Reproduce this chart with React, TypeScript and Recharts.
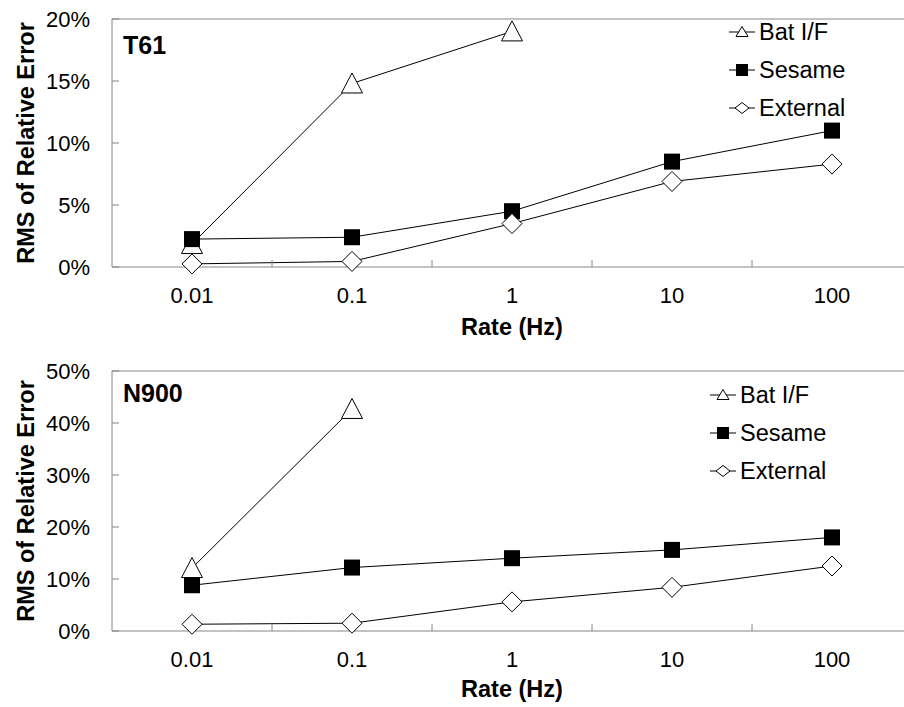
import React from 'react';
import { LineChart, Line, XAxis, YAxis, ReferenceLine, Legend, Label } from 'recharts';

// sampling rates (x categories)
const categories = ['0.01', '0.1', '1', '10', '100'];

// T61, RMS of relative error in %
const t61BatIF = [1.85, 14.8, 19.0, null, null];
const t61Sesame = [2.25, 2.4, 4.5, 8.5, 11.0];
const t61External = [0.25, 0.45, 3.5, 6.9, 8.3];
const t61Ticks = [0, 5, 10, 15, 20];

// N900, RMS of relative error in %
const n900BatIF = [12.1, 42.7, null, null, null];
const n900Sesame = [8.8, 12.2, 14.0, 15.6, 18.0];
const n900External = [1.3, 1.5, 5.6, 8.4, 12.5];
const n900Ticks = [0, 10, 20, 30, 40, 50];

const seriesNames = ['Bat I/F', 'Sesame', 'External'];

const FONT = '"Liberation Sans", Arial, sans-serif';
const GRAY = '#868686';
const X_TICK_MARGIN = 20;

const buildRows = (bat: (number | null)[], sesame: number[], external: number[]) =>
  categories.map((c, i) => ({ pos: i + 0.5, rate: c, bat: bat[i], sesame: sesame[i], external: external[i] }));

// label ticks at category centres, small tick marks at category borders
const xTicks = categories.flatMap((_, i) => [i, i + 0.5]).concat([categories.length]);

const RateTick = (props: any) => {
  const { x, y, payload } = props;
  const v = payload.value;
  if (Number.isInteger(v)) {
    if (v === 0 || v === categories.length) return <g />;
    const axisY = y - X_TICK_MARGIN;
    return <line x1={x} x2={x} y1={axisY} y2={axisY - 7} stroke={GRAY} />;
  }
  return (
    <text x={x} y={y} dy="0.71em" textAnchor="middle" fontSize={22} fill="#000" fontFamily={FONT}>
      {categories[Math.floor(v)]}
    </text>
  );
};

const triangle = (cx: number, cy: number, w: number, h: number) =>
  `${cx},${cy - h / 2 - 1} ${cx - w / 2},${cy + h / 2} ${cx + w / 2},${cy + h / 2}`;
const diamond = (cx: number, cy: number, r: number, ry: number) =>
  `${cx},${cy - ry} ${cx + r},${cy} ${cx},${cy + ry} ${cx - r},${cy}`;

const TriangleDot = (props: any) => {
  const { cx, cy, value, index } = props;
  if (value == null || cy == null) return <g key={`t${index}`} />;
  return <polygon key={`t${index}`} points={triangle(cx, cy, 21, 19)} fill="#fff" stroke="#000" strokeWidth={1} />;
};

const SquareDot = (props: any) => {
  const { cx, cy, value, index } = props;
  if (value == null || cy == null) return <g key={`s${index}`} />;
  return <rect key={`s${index}`} x={cx - 8} y={cy - 8} width={16} height={16} fill="#000" />;
};

const DiamondDot = (props: any) => {
  const { cx, cy, value, index } = props;
  if (value == null || cy == null) return <g key={`d${index}`} />;
  return <polygon key={`d${index}`} points={diamond(cx, cy, 10, 10)} fill="#fff" stroke="#000" strokeWidth={1} />;
};

const LegendMarker = ({ kind }: { kind: number }) => (
  <svg width={26} height={20} style={{ display: 'block' }}>
    <line x1={0} x2={26} y1={10} y2={10} stroke="#000" />
    {kind === 0 && <polygon points={triangle(13, 10, 12, 9)} fill="#fff" stroke="#000" />}
    {kind === 1 && <rect x={7} y={4} width={12} height={12} fill="#000" />}
    {kind === 2 && <polygon points={diamond(13, 10, 7, 5.5)} fill="#fff" stroke="#000" />}
  </svg>
);

const LegendBox = () => (
  <div style={{ fontFamily: FONT, fontSize: 23.5, color: '#000' }}>
    {seriesNames.map((name, i) => (
      <div key={name} style={{ display: 'flex', alignItems: 'center', height: 38 }}>
        <LegendMarker kind={i} />
        <span style={{ marginLeft: 4, whiteSpace: 'nowrap' }}>{name}</span>
      </div>
    ))}
  </div>
);

interface PanelProps {
  name: string;
  rows: any[];
  ticks: number[];
  height: number;
  plotTop: number;
  xAxisHeight: number;
  legendLeft: number;
  legendTop: number;
  nameOffset: number;
  xTitleOffset: number;
}

const Panel = ({ name, rows, ticks, height, plotTop, xAxisHeight, legendLeft, legendTop, nameOffset, xTitleOffset }: PanelProps) => {
  const yMax = ticks[ticks.length - 1];
  return (
    <LineChart width={930} height={height} data={rows} margin={{ top: plotTop, right: 18, left: 0, bottom: 0 }}>
      <XAxis
        dataKey="pos"
        type="number"
        domain={[0, categories.length]}
        ticks={xTicks}
        interval={0}
        height={xAxisHeight}
        axisLine={{ stroke: GRAY }}
        tickLine={false}
        tickSize={0}
        tickMargin={X_TICK_MARGIN}
        tick={<RateTick />}
      >
        <Label
          content={(p: any) => {
            const vb = p.viewBox;
            return (
              <text x={vb.x + vb.width / 2} y={vb.y + vb.height - xTitleOffset} textAnchor="middle" fontFamily={FONT} fontSize={23.5} fontWeight="bold" fill="#000">
                Rate (Hz)
              </text>
            );
          }}
        />
      </XAxis>
      <YAxis
        type="number"
        domain={[0, yMax]}
        ticks={ticks}
        interval={0}
        width={112}
        axisLine={{ stroke: GRAY }}
        tickLine={{ stroke: GRAY }}
        tickSize={-7}
        tickMargin={29}
        tickFormatter={(v: number) => `${v}%`}
        tick={{ fontSize: 22, fill: '#000', fontFamily: FONT }}
      >
        <Label
          content={(p: any) => {
            const vb = p.viewBox;
            const cy = vb.y + vb.height / 2;
            return (
              <g>
                <text x={26} y={cy} transform={`rotate(-90, 26, ${cy})`} textAnchor="middle" dominantBaseline="central" fontFamily={FONT} fontSize={23.5} fontWeight="bold" fill="#000">
                  RMS of Relative Error
                </text>
                <text x={vb.x + vb.width + 11} y={vb.y + nameOffset} fontFamily={FONT} fontSize={25} fontWeight="bold" fill="#000">
                  {name}
                </text>
              </g>
            );
          }}
        />
      </YAxis>
      <ReferenceLine y={yMax} stroke={GRAY} />
      <Legend
        layout="vertical"
        align="center"
        verticalAlign="middle"
        content={<LegendBox />}
        wrapperStyle={{ left: legendLeft, top: legendTop, width: 'auto', right: 'auto', bottom: 'auto' }}
      />
      <Line dataKey="bat" name={seriesNames[0]} stroke="#000" strokeWidth={1} dot={<TriangleDot />} activeDot={false} isAnimationActive={false} />
      <Line dataKey="sesame" name={seriesNames[1]} stroke="#000" strokeWidth={1} dot={<SquareDot />} activeDot={false} isAnimationActive={false} />
      <Line dataKey="external" name={seriesNames[2]} stroke="#000" strokeWidth={1} dot={<DiamondDot />} activeDot={false} isAnimationActive={false} />
    </LineChart>
  );
};

const App = () => (
  <div style={{ position: 'absolute', left: 0, top: 0, width: 904, height: 707, overflow: 'hidden', background: '#fff' }}>
    <div style={{ position: 'absolute', left: 0, top: 0 }}>
      <Panel
        name="T61"
        rows={buildRows(t61BatIF, t61Sesame, t61External)}
        ticks={t61Ticks}
        height={340}
        plotTop={19}
        xAxisHeight={73}
        legendLeft={729}
        legendTop={13}
        nameOffset={35}
        xTitleOffset={5}
      />
    </div>
    <div style={{ position: 'absolute', left: 0, top: 340 }}>
      <Panel
        name="N900"
        rows={buildRows(n900BatIF, n900Sesame, n900External)}
        ticks={n900Ticks}
        height={367}
        plotTop={31}
        xAxisHeight={76}
        legendLeft={710}
        legendTop={36}
        nameOffset={31}
        xTitleOffset={10}
      />
    </div>
  </div>
);

export default App;
